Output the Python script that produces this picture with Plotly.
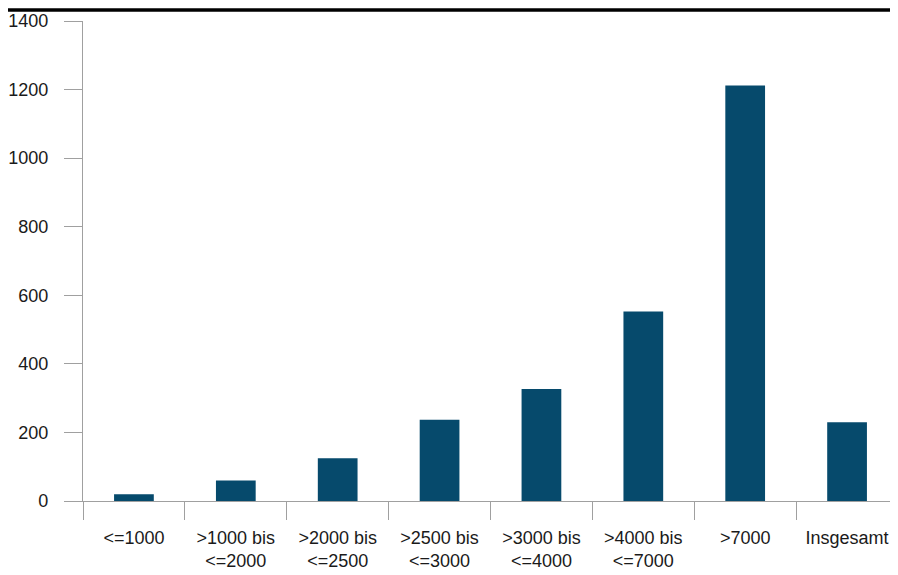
import plotly.graph_objects as go

categories = ["<=1000", ">1000 bis<br><=2000", ">2000 bis<br><=2500", ">2500 bis<br><=3000",
              ">3000 bis<br><=4000", ">4000 bis<br><=7000", ">7000", "Insgesamt"]
values = [20, 60, 125, 237, 327, 553, 1212, 230]
y_ticks = [0, 200, 400, 600, 800, 1000, 1200, 1400]

fig = go.Figure(go.Bar(x=categories, y=values, marker_color="#064a6c", marker_line_width=0, width=0.39))

fig.update_layout(
    width=890, height=567,
    margin=dict(l=72, r=0, t=13, b=74),
    paper_bgcolor="white", plot_bgcolor="white",
    font=dict(family="Liberation Sans", size=18, color="#1a1a1a"),
    showlegend=False,
)
fig.update_xaxes(
    showline=True, linecolor="#a0a0a0", linewidth=1.3,
    ticks="outside", tickson="boundaries", ticklen=18, tickcolor="#a0a0a0", tickwidth=1.3,
    showgrid=False, tickfont=dict(size=18), ticklabelstandoff=20,
)
fig.update_yaxes(
    range=[0, 1400], tickvals=y_ticks, showgrid=False, zeroline=False,
    showline=True, linecolor="#a0a0a0", linewidth=1.3,
    ticks="outside", ticklen=18, tickcolor="#a0a0a0", tickwidth=1.3,
    ticklabelstandoff=12, tickfont=dict(size=18),
)
fig.add_shape(type="line", xref="paper", yref="paper", x0=-0.1, x1=1, y0=1 + 11/480, y1=1 + 11/480,
              line=dict(color="black", width=3.5))
fig.write_html("out.html")
